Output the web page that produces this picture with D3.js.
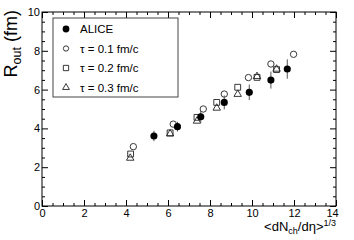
<!DOCTYPE html>
<html>
<head>
<meta charset="utf-8">
<script src="https://cdn.jsdelivr.net/npm/d3@7"></script>
<style>
  body { margin: 0; background: #fff; }
  text { font-family: 'Liberation Sans', Arial, sans-serif; fill: #000; }
</style>
</head>
<body>
<div class="chart"></div>
<script>
// ALICE data points
const aliceX = [5.33, 6.45, 7.56, 8.68, 9.87, 10.9, 11.68]
const aliceY = [3.61, 4.09, 4.6, 5.34, 5.86, 6.49, 7.06]
const aliceErr = [0.27, 0.25, 0.3, 0.36, 0.4, 0.44, 0.5]

// model curves, tau = 0.1 / 0.2 / 0.3 fm/c
const tau1X = [4.35, 6.25, 7.68, 8.68, 9.83, 10.9, 11.98]
const tau1Y = [3.06, 4.22, 5.0, 5.77, 6.62, 7.32, 7.82]
const tau2X = [4.22, 6.1, 7.38, 8.32, 9.32, 10.24, 11.17]
const tau2Y = [2.68, 3.77, 4.57, 5.34, 6.12, 6.63, 7.03]
const tau3X = [4.2, 6.1, 7.38, 8.32, 9.32, 10.24, 11.17]
const tau3Y = [2.47, 3.72, 4.38, 5.05, 5.76, 6.68, 7.06]

const xMajor = [0, 2, 4, 6, 8, 10, 12, 14]
const yMajor = [0, 2, 4, 6, 8, 10]
const legendLabels = ['ALICE', 'τ = 0.1 fm/c', 'τ = 0.2 fm/c', 'τ = 0.3 fm/c']

const margin = { top: 12, right: 18, bottom: 34, left: 42 },
    width = 354 - margin.left - margin.right,
    height = 240 - margin.top - margin.bottom

const svg = d3.select('.chart')
    .append('svg')
    .attr('width', 354)
    .attr('height', 240)
    .append('g')
    .attr('transform', `translate(${margin.left},${margin.top})`)

const x = d3.scaleLinear().domain([0, 14]).range([0, width])
const y = d3.scaleLinear().domain([0, 10]).range([height, 0])

const xMinor = d3.range(0, 14.01, 0.5).filter(v => v % 2 !== 0)
const yMinor = d3.range(0, 10.01, 0.5).filter(v => v % 2 !== 0)

const noDomain = g => g.select('.domain').remove()

// bottom axis with labels
svg.append('g')
    .attr('transform', `translate(0,${height})`)
    .call(d3.axisBottom(x).tickValues(xMajor).tickSize(-6).tickPadding(3).tickFormat(d3.format('d')))
    .call(noDomain)
    .call(g => g.selectAll('text').attr('font-size', 11).attr('font-family', null))
    .call(g => g.selectAll('text').filter(d => d === 14).attr('dx', -4))
svg.append('g')
    .attr('transform', `translate(0,${height})`)
    .call(d3.axisBottom(x).tickValues(xMinor).tickSize(-3).tickFormat(''))
    .call(noDomain)

// top axis, ticks only
svg.append('g')
    .call(d3.axisTop(x).tickValues(xMajor).tickSize(-6).tickFormat(''))
    .call(noDomain)
svg.append('g')
    .call(d3.axisTop(x).tickValues(xMinor).tickSize(-3).tickFormat(''))
    .call(noDomain)

// left axis with labels
svg.append('g')
    .call(d3.axisLeft(y).tickValues(yMajor).tickSize(-6).tickPadding(2).tickFormat(d3.format('d')))
    .call(noDomain)
    .call(g => g.selectAll('text').attr('font-size', 11).attr('font-family', null))
svg.append('g')
    .call(d3.axisLeft(y).tickValues(yMinor).tickSize(-3).tickFormat(''))
    .call(noDomain)

// right axis, ticks only
svg.append('g')
    .attr('transform', `translate(${width},0)`)
    .call(d3.axisRight(y).tickValues(yMajor).tickSize(-6).tickFormat(''))
    .call(noDomain)
svg.append('g')
    .attr('transform', `translate(${width},0)`)
    .call(d3.axisRight(y).tickValues(yMinor).tickSize(-3).tickFormat(''))
    .call(noDomain)

svg.append('rect')
    .attr('width', width)
    .attr('height', height)
    .attr('fill', 'none')
    .attr('stroke', '#000')

// axis titles
const xTitle = svg.append('text')
    .attr('x', width)
    .attr('y', height + 25)
    .attr('text-anchor', 'end')
    .attr('font-size', 13)
xTitle.append('tspan').text('<dN')
xTitle.append('tspan').text('ch').attr('font-size', 9).attr('dy', 3)
xTitle.append('tspan').text('/dη>').attr('dy', -3)
xTitle.append('tspan').text('1/3').attr('font-size', 9).attr('dy', -5)

const yTitle = svg.append('text')
    .attr('transform', 'rotate(-90)')
    .attr('x', 2)
    .attr('y', -25)
    .attr('text-anchor', 'end')
    .attr('font-size', 18)
yTitle.append('tspan').text('R')
yTitle.append('tspan').text('out').attr('font-size', 12.5).attr('dy', 4)
yTitle.append('tspan').text(' (fm)').attr('dy', -4)

// data
const alice = aliceX.map((v, i) => ({ x: v, y: aliceY[i], e: aliceErr[i] }))
const series = [
    { xs: tau1X, ys: tau1Y, type: d3.symbolCircle, size: 32 },
    { xs: tau2X, ys: tau2Y, type: d3.symbolSquare, size: 34 },
    { xs: tau3X, ys: tau3Y, type: d3.symbolTriangle, size: 24 }
]

series.forEach(s => {
    svg.append('g')
        .selectAll('path')
        .data(s.xs.map((v, i) => ({ x: v, y: s.ys[i] })))
        .join('path')
        .attr('d', d3.symbol(s.type, s.size))
        .attr('transform', d => `translate(${x(d.x)},${y(d.y)})`)
        .attr('fill', 'none')
        .attr('stroke', '#222')
        .attr('stroke-width', 0.9)
})

svg.append('g')
    .selectAll('line')
    .data(alice)
    .join('line')
    .attr('x1', d => x(d.x))
    .attr('x2', d => x(d.x))
    .attr('y1', d => y(d.y - d.e))
    .attr('y2', d => y(d.y + d.e))
    .attr('stroke', '#555')
    .attr('stroke-width', 1)

svg.append('g')
    .selectAll('path')
    .data(alice)
    .join('path')
    .attr('d', d3.symbol(d3.symbolCircle, 40))
    .attr('transform', d => `translate(${x(d.x)},${y(d.y)})`)
    .attr('fill', '#000')

// legend
const legend = svg.append('g')
    .attr('class', 'legend')
    .attr('transform', `translate(${53 - margin.left},${18 - margin.top})`)

legend.append('rect')
    .attr('width', 125)
    .attr('height', 79)
    .attr('fill', '#fff')
    .attr('stroke', '#444')

const legendMarks = [
    { type: d3.symbolCircle, size: 36, fill: '#000' },
    { type: d3.symbolCircle, size: 22, fill: 'none' },
    { type: d3.symbolSquare, size: 28, fill: 'none' },
    { type: d3.symbolTriangle, size: 20, fill: 'none' }
]

legendLabels.forEach((label, i) => {
    const row = legend.append('g')
        .attr('transform', `translate(0,${11 + i * 19.5})`)
    row.append('path')
        .attr('d', d3.symbol(legendMarks[i].type, legendMarks[i].size))
        .attr('transform', 'translate(13,0)')
        .attr('fill', legendMarks[i].fill)
        .attr('stroke', legendMarks[i].fill === 'none' ? '#222' : null)
        .attr('stroke-width', 0.9)
    row.append('text')
        .attr('x', 27)
        .attr('dy', '0.35em')
        .attr('font-size', 11.5)
        .text(label)
})
</script>
</body>
</html>
